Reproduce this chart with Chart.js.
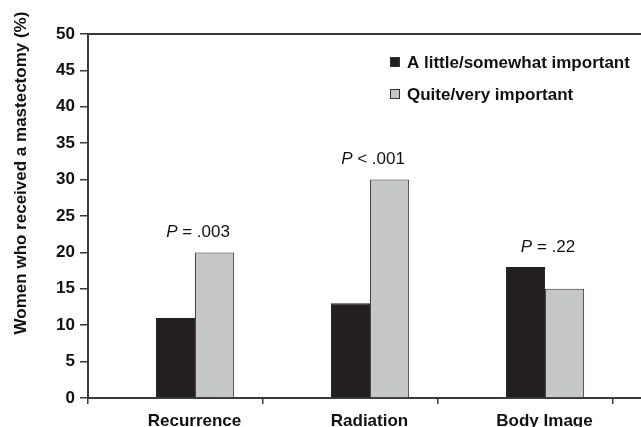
<!DOCTYPE html>
<html>
<head>
<meta charset="utf-8">
<script src="https://cdn.jsdelivr.net/npm/chart.js@4.4.1/dist/chart.umd.min.js"></script>
<style>
  html, body { margin: 0; padding: 0; background: #fff; }
  #wrap { width: 641px; height: 427px; }
</style>
</head>
<body>
<div id="wrap"><canvas id="chart" width="641" height="427"></canvas></div>
<script>
// Werte
const kategorien = ["Recurrence", "Radiation", "Body Image"];
const wenigWichtig = [11, 13, 18];
const sehrWichtig = [20, 30, 15];
const pWerte = [" = .003", " < .001", " = .22"];
const yTicks = [0, 5, 10, 15, 20, 25, 30, 35, 40, 45, 50];

const dunkel = "#231f20";
const hell = "#c6c7c8";
const linie = "#3a3a3a";
const schrift = "'Liberation Sans', Arial, sans-serif";

// Zusätzliche Linien, Legende, P-Werte und Achsentitel
const extras = {
  id: "extras",
  afterDraw(chart) {
    const ctx = chart.ctx;
    const area = chart.chartArea;
    const breite = chart.width;
    ctx.save();

    // obere Linie und Verlängerung der x-Achse
    ctx.strokeStyle = linie;
    ctx.lineWidth = 2;
    ctx.beginPath();
    ctx.moveTo(area.left, area.top);
    ctx.lineTo(breite, area.top);
    ctx.moveTo(area.right, area.bottom);
    ctx.lineTo(breite, area.bottom);
    ctx.stroke();

    // P-Werte über den Balkengruppen
    const metaA = chart.getDatasetMeta(1);
    const metaB = chart.getDatasetMeta(2);
    ctx.fillStyle = "#111";
    ctx.textBaseline = "middle";
    kategorien.forEach((k, i) => {
      const a = metaA.data[i], b = metaB.data[i];
      const mitte = (a.x + b.x) / 2 + 3;
      const oben = Math.min(a.y, b.y) - 20;
      ctx.font = "italic 17px " + schrift;
      const wP = ctx.measureText("P").width;
      ctx.font = "17px " + schrift;
      const wRest = ctx.measureText(pWerte[i]).width;
      const start = mitte - (wP + wRest) / 2;
      ctx.textAlign = "left";
      ctx.font = "italic 17px " + schrift;
      ctx.fillText("P", start, oben);
      ctx.font = "17px " + schrift;
      ctx.fillText(pWerte[i], start + wP, oben);
    });

    // Legende
    const legX = 390;
    const legY = [62, 94];
    ctx.font = "bold 17px " + schrift;
    [1, 2].forEach((d, j) => {
      const ds = chart.data.datasets[d];
      ctx.fillStyle = ds.backgroundColor;
      ctx.fillRect(legX, legY[j] - 5, 10, 10);
      ctx.strokeStyle = "#333";
      ctx.lineWidth = 1;
      ctx.strokeRect(legX + 0.5, legY[j] - 4.5, 9, 9);
      ctx.fillStyle = "#111";
      ctx.textAlign = "left";
      ctx.fillText(ds.label, legX + 17, legY[j] + 1);
    });

    // y-Achsentitel
    ctx.translate(21, 173);
    ctx.rotate(-Math.PI / 2);
    ctx.textAlign = "center";
    ctx.font = "bold 17px " + schrift;
    ctx.fillText("Women who received a mastectomy (%)", 0, 0);
    ctx.restore();
  }
};

const ctx = document.getElementById("chart").getContext("2d");
new Chart(ctx, {
  type: "bar",
  data: {
    labels: kategorien,
    datasets: [
      {
        label: "",
        data: kategorien.map(() => null),
        backgroundColor: "rgba(0,0,0,0)"
      },
      {
        label: "A little/somewhat important",
        data: wenigWichtig,
        backgroundColor: dunkel,
        borderColor: dunkel,
        borderWidth: 1
      },
      {
        label: "Quite/very important",
        data: sehrWichtig,
        backgroundColor: hell,
        borderColor: "#333",
        borderWidth: 1
      }
    ]
  },
  options: {
    responsive: false,
    animation: false,
    devicePixelRatio: 1,
    categoryPercentage: 0.67,
    barPercentage: 1.0,
    layout: { padding: { top: 34, right: 28, bottom: 0, left: 0 } },
    plugins: {
      legend: { display: false },
      tooltip: { enabled: false }
    },
    scales: {
      x: {
        afterFit: (s) => { s.height = 29; },
        border: { display: true, color: linie, width: 2 },
        grid: { drawOnChartArea: false, color: linie, lineWidth: 1.5, tickLength: 6 },
        ticks: {
          color: "#111",
          font: { family: schrift, size: 17, weight: "bold" },
          padding: 7,
          labelOffset: 19,
          maxRotation: 0
        }
      },
      y: {
        min: 0,
        max: 50,
        afterFit: (s) => { s.width = 88; },
        afterBuildTicks: (s) => { s.ticks = yTicks.map(v => ({ value: v })); },
        border: { display: true, color: linie, width: 2 },
        grid: { drawOnChartArea: false, color: linie, lineWidth: 1.5, tickLength: 8 },
        ticks: {
          color: "#111",
          font: { family: schrift, size: 17, weight: "bold" },
          padding: 5
        }
      }
    }
  },
  plugins: [extras]
});
</script>
</body>
</html>
